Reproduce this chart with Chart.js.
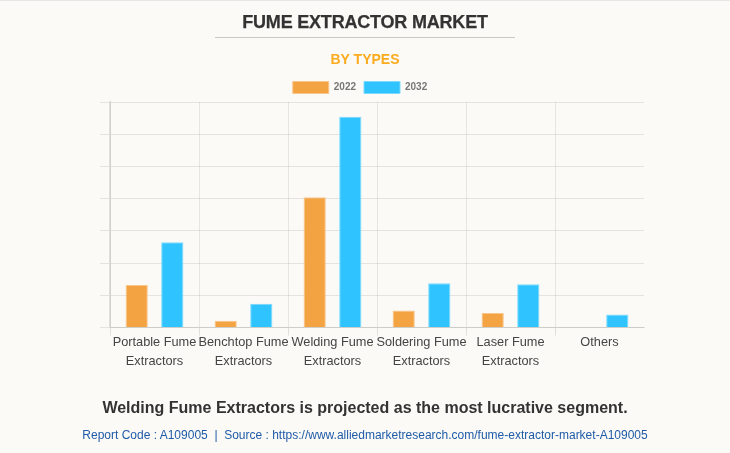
<!DOCTYPE html>
<html><head><meta charset="utf-8">
<script src="https://cdn.jsdelivr.net/npm/chart.js@4"></script>
<style>
html,body{margin:0;padding:0;background:#fbfaf6;width:730px;height:453px;overflow:hidden;font-family:"Liberation Sans",Arial,sans-serif}
#wrap{position:relative;width:730px;height:453px;border-top:1px solid #e6e6e6;box-sizing:border-box}
canvas{position:absolute;left:0;top:-1px}
.t{position:absolute;left:0;width:730px;text-align:center;white-space:nowrap}
#title{top:11px;font-size:18px;font-weight:bold;color:#333;letter-spacing:-.2px;-webkit-text-stroke:.25px #333;line-height:20px}
#rule{position:absolute;left:215px;top:36px;width:300px;height:1px;background:#c9c9c6}
#sub{top:50px;font-size:14px;font-weight:bold;color:#fbab1e;line-height:16px}
#note{top:398px;font-size:16px;font-weight:bold;color:#333;line-height:18px}
#src{top:427px;font-size:12px;color:#1f5ba8;line-height:14px}
</style></head><body>
<div id="wrap">
<canvas id="c" width="730" height="453"></canvas>
<div class="t" id="title">FUME EXTRACTOR MARKET</div>
<div id="rule"></div>
<div class="t" id="sub">BY TYPES</div>
<div class="t" id="note">Welding Fume Extractors is projected as the most lucrative segment.</div>
<div class="t" id="src">Report Code : A109005&nbsp; |&nbsp; Source : https://www.alliedmarketresearch.com/fume-extractor-market-A109005</div>
</div>
<script>
const categories=[["Portable Fume","Extractors"],["Benchtop Fume","Extractors"],["Welding Fume","Extractors"],["Soldering Fume","Extractors"],["Laser Fume","Extractors"],["Others",""]];
const values2022=[13.2,2.1,40.4,5.3,4.5,0];
const values2032=[26.5,7.4,65.4,13.7,13.4,4.0];
const yTicks=[0,10,20,30,40,50,60,70];
const legendTrim={id:'legendTrim',beforeInit(chart){const f=chart.legend.fit;chart.legend.fit=function(){f.call(this);this.height-=1.5;};}};
new Chart(document.getElementById('c'),{
 type:'bar',
 plugins:[legendTrim],
 data:{labels:categories,datasets:[
  {label:'2022',data:values2022,backgroundColor:'#f4a343',borderColor:'#f9c68a',borderWidth:1},
  {label:'2032',data:values2032,backgroundColor:'#2fc4ff',borderColor:'#7cd9ff',borderWidth:1}]},
 options:{
  responsive:false,animation:false,
  categoryPercentage:.8,barPercentage:.625,
  layout:{padding:{left:76,right:86,top:73.5,bottom:85.5}},
  plugins:{
   tooltip:{enabled:false},
   legend:{position:'top',labels:{boxWidth:36,boxHeight:12,padding:8,color:'#777',font:{family:'"Liberation Sans"',size:10,weight:'bold'}}}
  },
  scales:{
   x:{grid:{color:c=>c.tick?'rgba(0,0,0,.08)':'rgba(0,0,0,0)',tickColor:c=>c.tick?'rgba(0,0,0,.1)':'rgba(0,0,0,0)',tickLength:8,offset:true},border:{color:'rgba(0,0,0,.1)'},
      ticks:{color:'#444',font:{family:'"Liberation Sans"',size:12.75,lineHeight:1.49},maxRotation:0,minRotation:0,autoSkip:false,padding:-3}},
   y:{min:0,max:70,afterBuildTicks(a){a.ticks=yTicks.map(v=>({value:v}));},
      afterFit(s){s.width=34;},
      grid:{color:'rgba(0,0,0,.09)',tickLength:10},border:{color:'rgba(0,0,0,.1)',width:2},
      ticks:{display:false}}
  }
 }
});
</script>
</body></html>
